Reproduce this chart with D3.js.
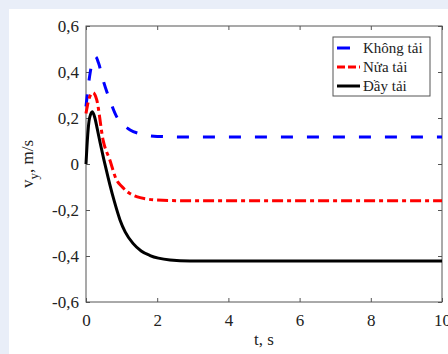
<!DOCTYPE html>
<html lang="vi">
<head>
<meta charset="UTF-8">
<title>v_y</title>
<script src="https://cdn.jsdelivr.net/npm/d3@7"></script>
<style>
  html, body { margin: 0; padding: 0; overflow: hidden; background: #e9eef8; }
  svg { display: block; }
  svg text { font-family: "Liberation Serif", "Times New Roman", serif; fill: #222; }
  .tick line { stroke: #555; }
  .tick text { font-size: 17px; }
</style>
</head>
<body>
<div id="chart"></div>
<script>
// data
const xTicks = [0, 2, 4, 6, 8, 10]
const yTicks = [-0.6, -0.4, -0.2, 0, 0.2, 0.4, 0.6]

const khongTai = [
  [0, 0.25], [0.1, 0.38], [0.2, 0.455], [0.27, 0.466], [0.35, 0.44], [0.48, 0.365],
  [0.67, 0.278], [0.86, 0.206], [1.0, 0.178], [1.24, 0.148], [1.5, 0.132],
  [2.0, 0.12], [3.0, 0.117], [10, 0.117]
]
const nuaTai = [
  [0, 0.22], [0.1, 0.29], [0.2, 0.31], [0.3, 0.28], [0.48, 0.104], [0.67, 0.017],
  [0.86, -0.07], [1.0, -0.097], [1.2, -0.125], [1.42, -0.142], [1.7, -0.152],
  [2.0, -0.157], [3.0, -0.16], [10, -0.16]
]
const dayTai = [
  [0, 0], [0.05, 0.13], [0.1, 0.2], [0.18, 0.227], [0.25, 0.2], [0.32, 0.15],
  [0.4, 0.09], [0.5, 0.02], [0.6, -0.045], [0.67, -0.09], [0.8, -0.165],
  [0.955, -0.243], [1.1, -0.295], [1.32, -0.345], [1.55, -0.378], [1.8, -0.398],
  [2.36, -0.417], [2.92, -0.422], [10, -0.422]
]

const series = [
  { name: 'Không tải', data: khongTai, color: '#0000ff', dash: '12,14' },
  { name: 'Nửa tải', data: nuaTai, color: '#ff0000', dash: '11,4,4,4' },
  { name: 'Đầy tải', data: dayTai, color: '#000000', dash: null }
]

const W = 448, H = 354
const m = { top: 26, right: 6, bottom: 52, left: 86 }
const w = W - m.left - m.right
const h = H - m.top - m.bottom
const FONT = '"Liberation Serif", "Times New Roman", serif'

const svg = d3.select('#chart').append('svg')
  .attr('width', W).attr('height', H)
  .attr('font-family', FONT)

// white panel
svg.append('rect')
  .attr('x', 9).attr('y', 9)
  .attr('width', W - 9).attr('height', H - 9)
  .attr('fill', '#fff')

const g = svg.append('g').attr('transform', `translate(${m.left},${m.top})`)

const x = d3.scaleLinear().domain([0, 10]).range([0, w])
const y = d3.scaleLinear().domain([-0.6, 0.6]).range([h, 0])

const fmtY = d => (Math.abs(d) < 1e-9 ? '0' : d3.format('.1f')(d).replace('.', ',').replace('−', '-'))

// axes, ticks pointing inward
const xAxis = g.append('g').attr('transform', `translate(0,${h})`)
  .call(d3.axisBottom(x).tickValues(xTicks).tickSize(-4).tickPadding(8).tickFormat(d3.format('d')))
xAxis.selectAll('text').attr('dy', '0.95em')

g.append('g')
  .call(d3.axisLeft(y).tickValues(yTicks).tickSize(-4).tickPadding(7).tickFormat(fmtY))

g.append('g')
  .call(d3.axisTop(x).tickValues(xTicks).tickSize(-4).tickFormat(''))
g.append('g').attr('transform', `translate(${w},0)`)
  .call(d3.axisRight(y).tickValues(yTicks).tickSize(-4).tickFormat(''))

g.selectAll('.domain').remove()
g.selectAll('g').attr('font-family', FONT)
g.append('rect')
  .attr('width', w).attr('height', h)
  .attr('fill', 'none').attr('stroke', '#555').attr('stroke-width', 1)

// lines
const line = d3.line()
  .x(d => x(d[0]))
  .y(d => y(d[1]))
  .curve(d3.curveMonotoneX)

g.selectAll('.series')
  .data(series)
  .enter()
  .append('path')
  .attr('class', 'series')
  .attr('d', d => line(d.data))
  .attr('fill', 'none')
  .attr('stroke', d => d.color)
  .attr('stroke-width', 3)
  .attr('stroke-dasharray', d => d.dash)

// legend
const legend = g.append('g').attr('transform', `translate(${333 - m.left},${37 - m.top})`)
legend.append('rect')
  .attr('width', 97).attr('height', 59)
  .attr('fill', '#fff').attr('stroke', '#555')

series.forEach((s, i) => {
  const ly = 11 + i * 19
  legend.append('line')
    .attr('x1', 4).attr('x2', 27)
    .attr('y1', ly).attr('y2', ly)
    .attr('stroke', s.color)
    .attr('stroke-width', 3)
    .attr('stroke-dasharray', s.dash ? (i === 0 ? '13,14' : '8,3,8,3') : null)
  legend.append('text')
    .attr('x', 30).attr('y', ly + 5)
    .style('font-size', '15px')
    .text(s.name)
})

// axis labels
g.append('text')
  .attr('x', w / 2).attr('y', h + 43)
  .attr('text-anchor', 'middle')
  .style('font-size', '17px')
  .text('t, s')

const yl = g.append('text')
  .attr('transform', `translate(${33 - m.left},${h / 2}) rotate(-90)`)
  .attr('text-anchor', 'middle')
  .style('font-size', '17px')
yl.append('tspan').text('v')
yl.append('tspan').attr('dy', 5).style('font-size', '13px').text('y')
yl.append('tspan').attr('dy', -5).text(', m/s')
</script>
</body>
</html>
